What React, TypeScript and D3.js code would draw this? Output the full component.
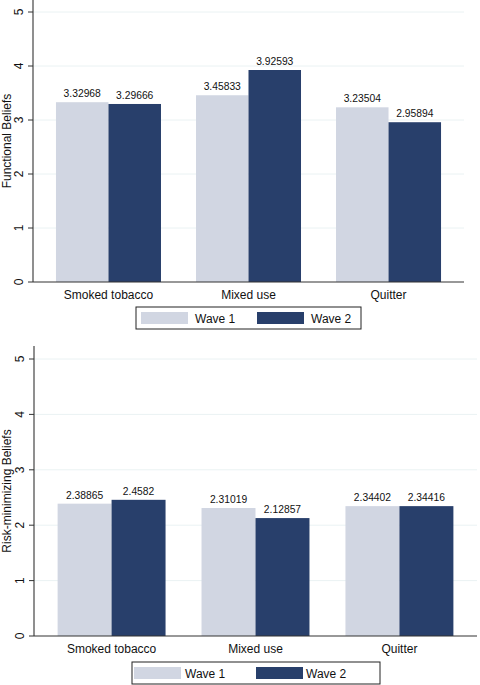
import React from 'react';
import * as d3 from 'd3';

const categories = ['Smoked tobacco', 'Mixed use', 'Quitter'];
const waves = ['Wave 1', 'Wave 2'];
const functionalWave1 = [3.32968, 3.45833, 3.23504];
const functionalWave2 = [3.29666, 3.92593, 2.95894];
const riskWave1 = [2.38865, 2.31019, 2.34402];
const riskWave2 = [2.4582, 2.12857, 2.34416];
const yTicks = [0, 1, 2, 3, 4, 5];

const colors = ['#d1d6e2', '#283f6b'];
const font = 'Arial, "Liberation Sans", sans-serif';

interface PanelProps {
  title: string;
  series: number[][];
  left: number;
  right: number;
  top: number;
  y0: number;
  y5: number;
  legend: { x0: number; x1: number; y0: number; y1: number; sw: number[]; tx: number[] };
}

const Panel: React.FC<PanelProps> = ({ title, series, left, right, top, y0, y5, legend }) => {
  const x = d3.scaleBand<string>()
    .domain(categories)
    .range([left, right])
    .paddingInner(0.25)
    .paddingOuter(0.164);
  const xSub = d3.scaleBand<string>().domain(waves).range([0, x.bandwidth()]);
  const y = d3.scaleLinear().domain([0, 5]).range([y0, y5]);

  return (
    <g>
      {/* grid */}
      {yTicks.slice(1).map(t => (
        <line key={t} x1={left} x2={right} y1={y(t)} y2={y(t)} stroke="#eaf2f3" strokeWidth={1} />
      ))}
      {/* bars */}
      {categories.map((c, ci) =>
        waves.map((w, wi) => {
          const v = series[wi][ci];
          const bx = (x(c) || 0) + (xSub(w) || 0);
          return (
            <g key={c + w}>
              <rect x={bx} y={y(v)} width={xSub.bandwidth()} height={y0 - y(v)} fill={colors[wi]} />
              <text x={bx + xSub.bandwidth() / 2} y={y(v) - 5} textAnchor="middle" fontSize={10.3} fill="#111">
                {String(v)}
              </text>
            </g>
          );
        })
      )}
      {/* axes */}
      <line x1={left} x2={left} y1={top} y2={y0} stroke="#333" strokeWidth={1.1} />
      <line x1={left} x2={right} y1={y0} y2={y0} stroke="#333" strokeWidth={1.1} />
      {yTicks.map(t => (
        <g key={t}>
          <line x1={left - 5} x2={left} y1={y(t)} y2={y(t)} stroke="#333" strokeWidth={1} />
          <text
            transform={`translate(${left - 10},${y(t)}) rotate(-90)`}
            textAnchor="middle"
            fontSize={12}
            fill="#111"
          >
            {t}
          </text>
        </g>
      ))}
      <text
        transform={`translate(10.5,${(top + y0) / 2}) rotate(-90)`}
        textAnchor="middle"
        fontSize={12}
        fill="#111"
      >
        {title}
      </text>
      {categories.map(c => (
        <text key={c} x={(x(c) || 0) + x.bandwidth() / 2} y={y0 + 17} textAnchor="middle" fontSize={12} fill="#111">
          {c}
        </text>
      ))}
      {/* legend */}
      <rect
        x={legend.x0}
        y={legend.y0}
        width={legend.x1 - legend.x0}
        height={legend.y1 - legend.y0}
        fill="#fff"
        stroke="#222"
        strokeWidth={1}
      />
      {waves.map((w, wi) => (
        <g key={w}>
          <rect x={legend.sw[wi]} y={legend.y0 + 5} width={47} height={legend.y1 - legend.y0 - 10} fill={colors[wi]} />
          <text x={legend.tx[wi]} y={(legend.y0 + legend.y1) / 2 + 4.5} fontSize={12} fill="#111">
            {w}
          </text>
        </g>
      ))}
    </g>
  );
};

export default function App() {
  return (
    <svg
      width={480}
      height={685}
      style={{ position: 'absolute', left: 0, top: 0, background: '#fff', fontFamily: font }}
    >
      <Panel
        title="Functional Beliefs"
        series={[functionalWave1, functionalWave2]}
        left={33}
        right={464}
        top={0}
        y0={282}
        y5={12}
        legend={{ x0: 136, x1: 361, y0: 307, y1: 329, sw: [141, 257], tx: [195, 311] }}
      />
      <Panel
        title="Risk-minimizing Beliefs"
        series={[riskWave1, riskWave2]}
        left={34}
        right={477}
        top={346}
        y0={636}
        y5={359}
        legend={{ x0: 132, x1: 380, y0: 662, y1: 684, sw: [134, 256], tx: [185, 306] }}
      />
    </svg>
  );
}
